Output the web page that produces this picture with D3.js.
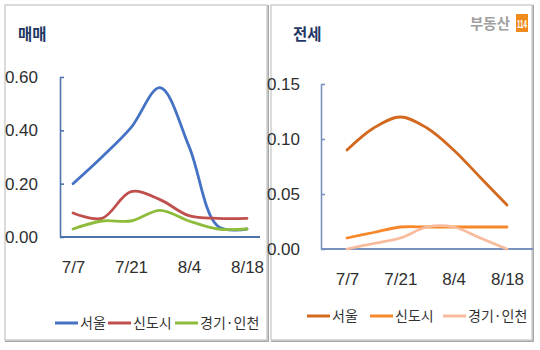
<!DOCTYPE html>
<html><head><meta charset="utf-8">
<script src="https://cdn.jsdelivr.net/npm/d3@7"></script>
<style>body{margin:0;background:#fff}svg{display:block}</style>
</head><body><div id="c"></div>
<script>
const weeks = ["7/7","7/14","7/21","7/28","8/4","8/11","8/18"];
const xTickLabels = ["7/7","7/21","8/4","8/18"];
const seriesNames = ["서울","신도시","경기·인천"];
const saleSeoul   = [0.20, 0.30, 0.41, 0.56, 0.34, 0.04, 0.03];
const saleNewTown = [0.09, 0.07, 0.17, 0.14, 0.08, 0.07, 0.07];
const saleGyeonggi= [0.03, 0.06, 0.06, 0.10, 0.06, 0.03, 0.03];
const rentSeoul   = [0.09, 0.11, 0.12, 0.11, 0.09, 0.065, 0.04];
const rentNewTown = [0.01, 0.015, 0.02, 0.02, 0.02, 0.02, 0.02];
const rentGyeonggi= [0.00, 0.005, 0.01, 0.02, 0.02, 0.01, 0.00];
const saleTicks = [0, 0.2, 0.4, 0.6];
const rentTicks = [0, 0.05, 0.1, 0.15];

const W=540,H=350;
const svg=d3.select("#c").append("svg").attr("width",W).attr("height",H);
const numFont='"Liberation Sans Narrow","Arial Narrow","Liberation Sans",sans-serif';
const krFont='"Noto Sans CJK KR","Noto Sans",sans-serif';

function frame(x,y,w,h){
  svg.append("rect").attr("x",x+1).attr("y",y+1).attr("width",w).attr("height",h)
    .attr("fill","none").attr("stroke","#a8a8a8").attr("stroke-width",2);
  svg.append("rect").attr("x",x).attr("y",y).attr("width",w).attr("height",h)
    .attr("fill","#fff").attr("stroke","#d0d0d0").attr("stroke-width",1.5);
}
frame(5,5,262,335);
frame(271,5,261,335);

function panel(o){
  const g=svg.append("g");
  const x=d3.scalePoint().domain(weeks).range(o.xr);
  const y=d3.scaleLinear().domain(o.yd).range(o.yr);
  g.append("text").attr("x",o.tx).attr("y",40).text(o.title)
    .attr("font-family",krFont).attr("font-weight","bold").attr("font-size",15.5).attr("fill","#1f3864");
  const ya=g.append("g").attr("transform",`translate(${o.ax},0)`)
    .call(d3.axisLeft(y).tickValues(o.ticks).tickFormat(d3.format(o.fmt)).tickSize(-4).tickSizeOuter(0).tickPadding(o.pad));
  ya.selectAll("path,line").attr("stroke",o.axisColor).attr("stroke-width",1.6);
  ya.selectAll("text").attr("font-family",numFont).attr("font-size",17).attr("fill","#2f2f2f");
  g.append("line").attr("x1",o.ax).attr("x2",o.axEnd).attr("y1",y(0)).attr("y2",y(0))
    .attr("stroke",o.axisColor).attr("stroke-width",1.8);
  const xa=g.append("g").attr("transform",`translate(0,${o.xly})`)
    .call(d3.axisBottom(x).tickValues(xTickLabels).tickSize(0).tickPadding(0));
  xa.select(".domain").remove();
  xa.selectAll("text").attr("font-family",numFont).attr("font-size",17).attr("fill","#2f2f2f");
  const line=d3.line().x((d,i)=>x(weeks[i])).y(d=>y(d)).curve(d3.curveCatmullRom.alpha(0.5));
  o.data.forEach((s,i)=>{
    g.append("path").attr("d",line(s)).attr("fill","none").attr("stroke",o.colors[i])
      .attr("stroke-width",2.8).attr("stroke-linecap","round");
  });
  seriesNames.forEach((n,i)=>{
    const lx=o.leg[i];
    g.append("line").attr("x1",lx).attr("x2",lx+23).attr("y1",o.legY-5).attr("y2",o.legY-5)
      .attr("stroke",o.colors[i]).attr("stroke-width",3);
    g.append("text").attr("x",lx+25).attr("y",o.legY).text(n)
      .attr("font-family",krFont).attr("font-size",14).attr("fill","#333");
  });
}

panel({title:"매매",tx:18,xr:[73,247],yd:[0,0.6],yr:[237,77],ax:60,axEnd:260,ticks:saleTicks,fmt:".2f",pad:22,
  axisColor:"#4f72aa",xly:261,data:[saleSeoul,saleNewTown,saleGyeonggi],
  colors:["#4472c4","#c0504d","#8dbb3a"],leg:[55,108,175],legY:328});
panel({title:"전세",tx:293,xr:[347,507],yd:[0,0.15],yr:[249,84],ax:321,axEnd:533,ticks:rentTicks,fmt:".2f",pad:21,
  axisColor:"#7a92c0",xly:273,data:[rentSeoul,rentNewTown,rentGyeonggi],
  colors:["#d2691e","#f7882a","#f8bb9c"],leg:[307,370,443],legY:321});

svg.append("text").attr("x",470).attr("y",29).text("부동산")
  .attr("font-family",krFont).attr("font-weight","bold").attr("font-size",14.5).attr("fill","#a0a0a0");
svg.append("rect").attr("x",516).attr("y",14).attr("width",12).attr("height",18).attr("fill","#f08a1c");
svg.append("text").attr("x",522).attr("y",28).attr("text-anchor","middle").text("114")
  .attr("font-family",numFont).attr("font-weight","bold").attr("font-size",11).attr("fill","#fff")
  .attr("textLength",10).attr("lengthAdjust","spacingAndGlyphs");
</script></body></html>
